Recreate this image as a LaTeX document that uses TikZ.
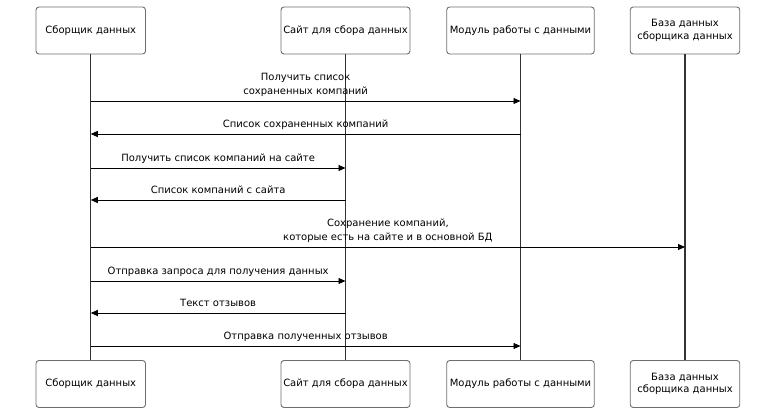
\documentclass[tikz,border=0pt]{standalone}
\usepackage{fontspec}
\setmainfont{DejaVu Sans}
\usetikzlibrary{arrows.meta}
\definecolor{boxline}{HTML}{6E6E6E}
\definecolor{lifeline}{HTML}{333333}
\begin{document}
\begin{tikzpicture}[x=1pt,y=-1pt,
  actor/.style={draw=boxline, line width=0.9pt, rounded corners=3pt, fill=white,
    minimum height=47pt, inner sep=0pt, align=center,
    font=\fontsize{10}{12.5}\selectfont},
  life/.style={draw=lifeline, line width=1.2pt},
  msg/.style={draw=black, line width=0.9pt, -{Triangle[length=7pt,width=6pt]}},
  lbl/.style={anchor=south, inner sep=0pt, text depth=0pt, align=center,
    font=\fontsize{10}{14}\selectfont}]
\useasboundingbox (0,0) rectangle (784,420);
% top actors
\node[actor, minimum width=109.5pt] (a1) at (90.75,30.5) {Сборщик данных};
\node[actor, minimum width=129pt] (a2) at (345.5,30.5) {Сайт для сбора данных};
\node[actor, minimum width=147.5pt] (a3) at (520.5,30.5) {Модуль работы с данными};
\node[actor, minimum width=109.5pt] (a4) at (685,30.5) {База данных\\сборщика данных};
% bottom actors
\node[actor, minimum width=109.5pt] (b1) at (90.75,384) {Сборщик данных};
\node[actor, minimum width=129pt] (b2) at (345.5,384) {Сайт для сбора данных};
\node[actor, minimum width=147.5pt] (b3) at (520.5,384) {Модуль работы с данными};
\node[actor, minimum width=109.5pt] (b4) at (685,384) {База данных\\сборщика данных};
% lifelines
\draw[life] (a1.south) -- (b1.north);
\draw[life] (a2.south) -- (b2.north);
\draw[life] (a3.south) -- (b3.north);
\draw[life] (a4.south) -- (b4.north);
% messages
\draw[msg] (a1.south |- 0,101) -- (a3.south |- 0,101)
  node[lbl, pos=0.5, yshift=6.5pt] {Получить список\\сохраненных компаний};
\draw[msg] (a3.south |- 0,134) -- (a1.south |- 0,134)
  node[lbl, pos=0.5, yshift=6.5pt] {Список сохраненных компаний};
\draw[msg] (a1.south |- 0,168) -- (a2.south |- 0,168)
  node[lbl, pos=0.5, yshift=6.5pt] {Получить список компаний на сайте};
\draw[msg] (a2.south |- 0,200) -- (a1.south |- 0,200)
  node[lbl, pos=0.5, yshift=6.5pt] {Список компаний с сайта};
\draw[msg] (a1.south |- 0,247) -- (a4.south |- 0,247)
  node[lbl, pos=0.5, yshift=6.5pt] {Сохранение компаний,\\которые есть на сайте и в основной БД};
\draw[msg] (a1.south |- 0,281) -- (a2.south |- 0,281)
  node[lbl, pos=0.5, yshift=6.5pt] {Отправка запроса для получения данных};
\draw[msg] (a2.south |- 0,313) -- (a1.south |- 0,313)
  node[lbl, pos=0.5, yshift=6.5pt] {Текст отзывов};
\draw[msg] (a1.south |- 0,346) -- (a3.south |- 0,346)
  node[lbl, pos=0.5, yshift=6.5pt] {Отправка полученных отзывов};
\end{tikzpicture}
\end{document}
